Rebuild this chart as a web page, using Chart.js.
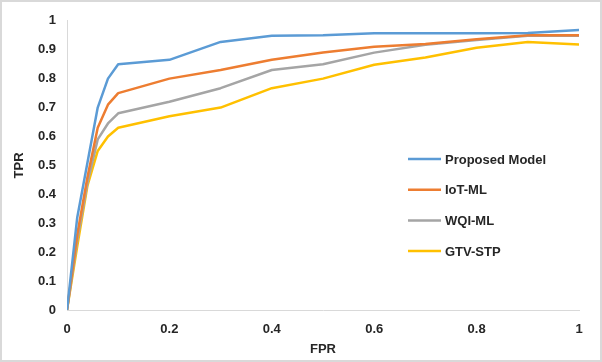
<!DOCTYPE html>
<html>
<head>
<meta charset="utf-8">
<script src="https://cdn.jsdelivr.net/npm/chart.js@4.4.1/dist/chart.umd.min.js"></script>
<style>
    html, body { margin: 0; padding: 0; background: #fff; }
    #wrap {
        width: 602px; height: 362px;
        box-sizing: border-box;
        border: 2px solid #d9d9d9;
        background: #fff;
    }
    #rocChart { display: block; }
</style>
</head>
<body>
<div id="wrap"><canvas id="rocChart" width="598" height="358"></canvas></div>
<script>
// FPR points shared by every curve
const fpr = [0, 0.02, 0.04, 0.06, 0.08, 0.1, 0.2, 0.3, 0.4, 0.5, 0.6, 0.7, 0.8, 0.9, 1];

const proposedTpr = [0, 0.32, 0.51, 0.70, 0.80, 0.85, 0.865, 0.927, 0.948, 0.95, 0.957, 0.957, 0.957, 0.958, 0.968];
const iotTpr      = [0, 0.26, 0.46, 0.63, 0.71, 0.75, 0.80, 0.83, 0.865, 0.89, 0.91, 0.92, 0.936, 0.95, 0.95];
const wqiTpr      = [0, 0.24, 0.44, 0.59, 0.645, 0.68, 0.72, 0.767, 0.83, 0.85, 0.89, 0.917, 0.934, 0.948, 0.948];
const gtvTpr      = [0, 0.22, 0.43, 0.55, 0.60, 0.63, 0.67, 0.70, 0.767, 0.80, 0.848, 0.873, 0.907, 0.927, 0.918];

const seriesNames  = ['Proposed Model', 'IoT-ML', 'WQI-ML', 'GTV-STP'];
const seriesValues = [proposedTpr, iotTpr, wqiTpr, gtvTpr];
const seriesColors = ['#5B9BD5', '#ED7D31', '#A5A5A5', '#FFC000'];

const textColor = '#262626';
const fontFamily = '"Liberation Sans", Arial, sans-serif';

// Excel style tick text: 0, 0.1 ... 1
function tickText(value) {
    return String(Math.round(value * 10) / 10);
}

// legend drawn inside the plot, like the Excel original
const insideLegend = {
    id: 'insideLegend',
    afterDatasetsDraw(chart) {
        const ctx = chart.ctx;
        ctx.save();
        ctx.font = 'bold 13px ' + fontFamily;
        ctx.textBaseline = 'middle';
        ctx.textAlign = 'left';
        chart.data.datasets.forEach((ds, i) => {
            const y = 157 + i * 30.7;
            ctx.strokeStyle = ds.borderColor;
            ctx.lineWidth = 2.5;
            ctx.beginPath();
            ctx.moveTo(406, y);
            ctx.lineTo(439, y);
            ctx.stroke();
            ctx.fillStyle = textColor;
            ctx.fillText(ds.label, 443, y + 1);
        });
        ctx.restore();
    }
};

const ctx = document.getElementById('rocChart').getContext('2d');
new Chart(ctx, {
    type: 'line',
    data: {
        datasets: seriesNames.map((name, i) => ({
            label: name,
            data: fpr.map((x, j) => ({ x: x, y: seriesValues[i][j] })),
            borderColor: seriesColors[i],
            backgroundColor: seriesColors[i],
            borderWidth: 2.5,
            pointRadius: 0,
            tension: 0,
            borderJoinStyle: 'round',
            borderCapStyle: 'round',
            fill: false
        }))
    },
    options: {
        responsive: false,
        animation: false,
        layout: { padding: { left: 0, right: 21, top: 16, bottom: 0 } },
        plugins: {
            legend: { display: false },
            tooltip: { enabled: false }
        },
        scales: {
            x: {
                type: 'linear',
                min: 0,
                max: 1,
                grid: { display: false, drawTicks: false, tickLength: 0 },
                border: { display: true, color: '#d9d9d9', width: 1 },
                ticks: {
                    stepSize: 0.2,
                    padding: 12,
                    color: textColor,
                    font: { family: fontFamily, size: 13, weight: 'bold' },
                    callback: tickText
                },
                title: {
                    display: true,
                    text: 'FPR',
                    color: textColor,
                    padding: { top: 0, bottom: 3 },
                    font: { family: fontFamily, size: 13, weight: 'bold' }
                },
                afterFit(scale) { scale.height = 50; }
            },
            y: {
                type: 'linear',
                min: 0,
                max: 1,
                grid: { display: false, drawTicks: false, tickLength: 0 },
                border: { display: true, color: '#d9d9d9', width: 1 },
                ticks: {
                    stepSize: 0.1,
                    padding: 11,
                    color: textColor,
                    font: { family: fontFamily, size: 13, weight: 'bold' },
                    callback: tickText
                },
                title: {
                    display: true,
                    text: 'TPR',
                    color: textColor,
                    padding: { top: 10, bottom: 0 },
                    font: { family: fontFamily, size: 13, weight: 'bold' }
                },
                afterFit(scale) { scale.width = 65; }
            }
        }
    },
    plugins: [insideLegend]
});
</script>
</body>
</html>
